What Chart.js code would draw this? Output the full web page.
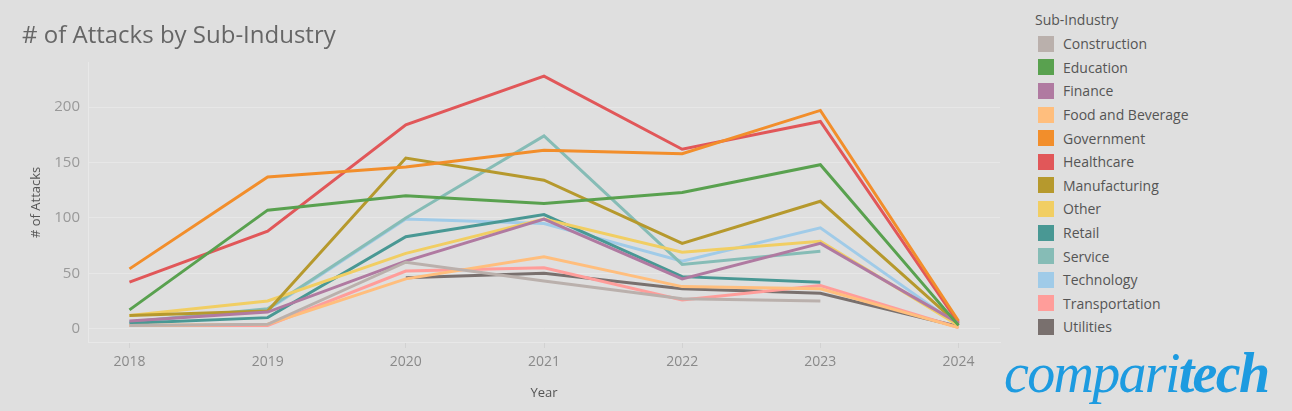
<!DOCTYPE html>
<html>
<head>
<meta charset="utf-8">
<script src="https://cdn.jsdelivr.net/npm/chart.js@4.4.0/dist/chart.umd.min.js"></script>
<style>
  html, body { margin: 0; padding: 0; background: #dfdfdf; }
  body { width: 1292px; height: 411px; position: relative; overflow: hidden; font-family: "Open Sans", sans-serif; }
  #wrap { position: absolute; left: 0; top: 0; width: 1015px; height: 411px; }
  #legend { position: absolute; left: 1035px; top: 10px; color: #555; font-size: 14px; }
  #legend .ttl { height: 20px; line-height: 20px; margin-bottom: 2px; }
  #legend .item { height: 23.6px; display: flex; align-items: center; }
  #legend .box { width: 16px; height: 16px; margin: 0 9px 0 3px; }
  #logo { position: absolute; left: 1004px; top: 341px; font-family: "Liberation Serif", serif; font-style: italic;
          font-size: 56px; color: #1d9be0; letter-spacing: -1.7px; }
  #logo b { font-weight: bold; }
</style>
</head>
<body>
<div id="wrap"><canvas id="chart" width="1015" height="411"></canvas></div>
<div id="legend"></div>
<div id="logo">compari<b>tech</b></div>
<script>
// data
const years = [2018, 2019, 2020, 2021, 2022, 2023, 2024];

const construction   = [3, 4, 60, 43, 27, 25, null];
const education      = [17, 107, 120, 113, 123, 148, 3];
const finance        = [7, 15, 61, 99, 45, 77, 5];
const foodBeverage   = [3, 4, 45, 65, 38, 36, 1];
const government     = [54, 137, 146, 161, 158, 197, 7];
const healthcare     = [42, 88, 184, 228, 162, 187, 5];
const manufacturing  = [12, 16, 154, 134, 77, 115, 4];
const other          = [12, 25, 68, 99, 69, 79, 3];
const retail         = [5, 10, 83, 103, 47, 42, null];
const service        = [6, 18, 100, 174, 58, 70, null];
const technology     = [6, 17, 99, 95, 61, 91, 3];
const transportation = [3, 3, 52, 55, 26, 39, 1];
const utilities      = [null, null, 46, 50, 36, 32, 2];

const industries = ["Construction", "Education", "Finance", "Food and Beverage", "Government", "Healthcare",
  "Manufacturing", "Other", "Retail", "Service", "Technology", "Transportation", "Utilities"];
const seriesValues = [construction, education, finance, foodBeverage, government, healthcare,
  manufacturing, other, retail, service, technology, transportation, utilities];
const colors = ["#bab0ac", "#59a14f", "#b07aa1", "#ffbe7d", "#f28e2b", "#e15759",
  "#b6992d", "#f1ce63", "#499894", "#86bcb6", "#a0cbe8", "#ff9d9a", "#79706e"];

const yTicks = [0, 50, 100, 150, 200];

// build datasets
let datasets = industries.map((name, i) => ({
  label: name,
  data: years.map((yr, j) => ({ x: yr, y: seriesValues[i][j] })),
  borderColor: colors[i],
  backgroundColor: colors[i],
  borderWidth: 3,
  pointRadius: 0,
  tension: 0,
  spanGaps: false
}));

new Chart(document.getElementById("chart"), {
  type: "line",
  data: { datasets: datasets },
  options: {
    animation: false,
    responsive: false,
    layout: { padding: { left: 22, right: 15, top: 0, bottom: 6 } },
    plugins: {
      legend: { display: false },
      tooltip: { enabled: false },
      title: {
        display: true,
        text: "# of Attacks by Sub-Industry",
        align: "start",
        color: "#666",
        font: { family: "Open Sans", size: 24, weight: "normal" },
        padding: { top: 22, bottom: 12 }
      }
    },
    scales: {
      x: {
        type: "linear",
        min: 2017.7,
        max: 2024.3,
        afterBuildTicks: s => { s.ticks = years.map(v => ({ value: v })); },
        afterFit: s => { s.height = 63; },
        ticks: { color: "#8a8a8a", font: { family: "Open Sans", size: 14 }, padding: 6,
                 callback: v => String(v), maxRotation: 0 },
        grid: { drawOnChartArea: false, color: "#d2d2d2", tickLength: 6 },
        border: { color: "#e8e8e8" },
        title: { display: true, text: "Year", color: "#555", font: { family: "Open Sans", size: 13 }, padding: { top: 6, bottom: 4 } }
      },
      y: {
        min: -12,
        max: 240,
        afterBuildTicks: s => { s.ticks = yTicks.map(v => ({ value: v })); },
        afterFit: s => { s.width = 66; },
        ticks: { color: "#999", font: { family: "Open Sans", size: 15 }, padding: 8 },
        grid: { color: "#e7e7e7", drawTicks: false },
        border: { color: "#e8e8e8" },
        title: { display: true, text: "# of Attacks", color: "#555", font: { family: "Open Sans", size: 13 }, padding: { top: 6, bottom: 0 } }
      }
    }
  }
});

// legend on the right
const legend = document.getElementById("legend");
let html = '<div class="ttl">Sub-Industry</div>';
industries.forEach((name, i) => {
  html += '<div class="item"><span class="box" style="background:' + colors[i] + '"></span>' + name + '</div>';
});
legend.innerHTML = html;
</script>
</body>
</html>
